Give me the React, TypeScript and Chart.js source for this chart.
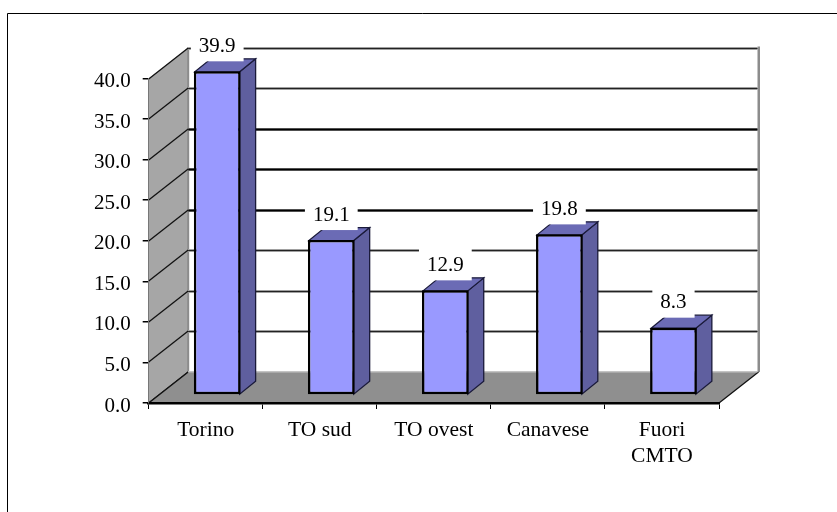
import React, { useEffect, useRef } from "react";
import { Chart, registerables } from "chart.js";

Chart.register(...registerables);

const categories: (string | string[])[] = ["Torino", "TO sud", "TO ovest", "Canavese", ["Fuori", "CMTO"]];
const shares = [39.9, 19.1, 12.9, 19.8, 8.3];
const axisMax = 40;
const axisStep = 5;
const heavyGridValues = [30, 25, 20];

const FONT = "'Liberation Serif'";
const WALL = { dx: 39.5, dy: -31 };
const BAR_PLANE = { dx: 11.5, dy: -8 };
const BAR_DEPTH = { dx: 16, dy: -13 };

function poly(ctx: CanvasRenderingContext2D, pts: number[][], fill: string, stroke?: string, lw = 1) {
  ctx.beginPath();
  pts.forEach(([x, y], i) => (i ? ctx.lineTo(x, y) : ctx.moveTo(x, y)));
  ctx.closePath();
  ctx.fillStyle = fill;
  ctx.fill();
  if (stroke) {
    ctx.strokeStyle = stroke;
    ctx.lineWidth = lw;
    ctx.lineJoin = "miter";
    ctx.stroke();
  }
}

const chart3d = {
  id: "chart3d",
  beforeDraw(chart: any) {
    const { ctx, chartArea: a, scales } = chart;
    const y = scales.y;
    ctx.save();
    // frame
    ctx.strokeStyle = "#000";
    ctx.lineWidth = 1;
    ctx.beginPath();
    ctx.moveTo(7.5, 512);
    ctx.lineTo(7.5, 13.5);
    ctx.lineTo(837, 13.5);
    ctx.stroke();
    const t = a.top, b = a.bottom, l = a.left, r = a.right;
    // side wall
    poly(ctx, [[l, b], [l, t], [l + WALL.dx, t + WALL.dy], [l + WALL.dx, b + WALL.dy]], "#a6a6a6");
    ctx.fillStyle = "#8c8c8c";
    ctx.fillRect(l + WALL.dx - 1, t + WALL.dy, 2, b - t);
    // right edge of back wall
    ctx.fillRect(r + WALL.dx - 1, t + WALL.dy - 1, 2.5, b - t + 1);
    // grid lines
    for (const tick of y.ticks) {
      const py = Math.round(y.getPixelForValue(tick.value));
      const wy = py + WALL.dy;
      const heavy = heavyGridValues.includes(tick.value);
      if (tick.value > 0) {
        ctx.fillStyle = "#a0a0a0";
        ctx.fillRect(l + WALL.dx, wy - 1, r - l - 1, 3);
        ctx.fillStyle = heavy ? "#000" : "#222";
        ctx.fillRect(l + WALL.dx, heavy ? wy - 0.5 : wy, r - l - 1, heavy ? 2 : 1);
      }
      ctx.strokeStyle = "#111";
      ctx.lineWidth = 1.3;
      ctx.beginPath();
      ctx.moveTo(l, py);
      ctx.lineTo(l + WALL.dx, py + WALL.dy);
      ctx.stroke();
    }
    // floor
    poly(ctx, [[l, b], [r, b], [r + WALL.dx, b + WALL.dy], [l + WALL.dx, b + WALL.dy]], "#8f8f8f");
    ctx.strokeStyle = "#111";
    ctx.lineWidth = 1.3;
    ctx.beginPath();
    ctx.moveTo(r, b);
    ctx.lineTo(r + WALL.dx, b + WALL.dy);
    ctx.moveTo(l, b);
    ctx.lineTo(l + WALL.dx, b + WALL.dy);
    ctx.stroke();
    ctx.fillStyle = "#c4c4c4";
    ctx.fillRect(l + WALL.dx, b + WALL.dy - 1, r - l - 1, 1.5);
    ctx.restore();
  },
  beforeDatasetsDraw(chart: any) {
    const { ctx } = chart;
    ctx.save();
    ctx.translate(BAR_PLANE.dx, BAR_PLANE.dy);
    for (const bar of chart.getDatasetMeta(0).data) {
      const x1 = bar.x + bar.width / 2 - 1;
      const x0 = bar.x - bar.width / 2 + 1;
      const top = bar.y + 0.5;
      const base = bar.base;
      const { dx, dy } = BAR_DEPTH;
      poly(ctx, [[x1, top], [x1 + dx, top + dy], [x1 + dx, base + dy], [x1, base]], "#5f5f9f", "#1a1a3a", 1.3);
      poly(ctx, [[x0, top], [x0 + dx, top + dy], [x1 + dx, top + dy], [x1, top]], "#6b6bb5", "#1a1a3a", 1.2);
    }
  },
  afterDatasetsDraw(chart: any) {
    const { ctx } = chart;
    ctx.restore();
    ctx.save();
    ctx.font = `21px ${FONT}`;
    ctx.textAlign = "center";
    ctx.textBaseline = "middle";
    chart.getDatasetMeta(0).data.forEach((bar: any, i: number) => {
      const label = shares[i].toFixed(1);
      const cx = bar.x + BAR_PLANE.dx;
      const frontTop = bar.y + BAR_PLANE.dy;
      const w = ctx.measureText(label).width + 16;
      ctx.fillStyle = "#fff";
      ctx.fillRect(cx - w / 2, frontTop - 42, w, 32);
      ctx.fillStyle = "#000";
      ctx.fillText(label, cx, frontTop - 25);
    });
    ctx.restore();
  },
};

export default function App() {
  const ref = useRef<HTMLCanvasElement>(null);
  useEffect(() => {
    document.body.style.margin = "0";
    const chart = new Chart(ref.current!, {
      type: "bar",
      data: {
        labels: categories as any,
        datasets: [
          {
            data: shares,
            backgroundColor: "#9999ff",
            borderColor: "#000",
            borderWidth: 2.5,
            borderSkipped: false,
            barPercentage: 0.41,
            categoryPercentage: 1,
            clip: false as any,
          },
        ],
      },
      options: {
        responsive: false,
        animation: false,
        layout: { padding: { top: 78.5, right: 118, left: 0, bottom: 0 } },
        plugins: { legend: { display: false }, title: { display: false }, tooltip: { enabled: false } },
        scales: {
          x: {
            afterFit: (s: any) => { s.height = 109; },
            grid: { drawOnChartArea: false, drawTicks: true, tickLength: 6, color: "#000", lineWidth: 1 },
            border: { color: "#000", width: 2.5 },
            ticks: {
              color: "#000",
              padding: 8,
              maxRotation: 0,
              autoSkip: false,
              font: { family: FONT, size: 21.5, lineHeight: 1.22 },
            },
          },
          y: {
            min: 0,
            max: axisMax,
            afterFit: (s: any) => { s.width = 148.7; },
            grid: { drawOnChartArea: false, drawTicks: true, tickLength: 6, color: "#000", lineWidth: 1.5 },
            border: { color: "#777", width: 1 },
            ticks: {
              stepSize: axisStep,
              color: "#000",
              padding: 12,
              labelOffset: 3,
              font: { family: FONT, size: 21 },
              callback: (v: any) => Number(v).toFixed(1),
            },
          },
        },
      } as any,
      plugins: [chart3d as any],
    });
    return () => chart.destroy();
  }, []);
  return <canvas ref={ref} width={837} height={512} style={{ display: "block" }} />;
}
